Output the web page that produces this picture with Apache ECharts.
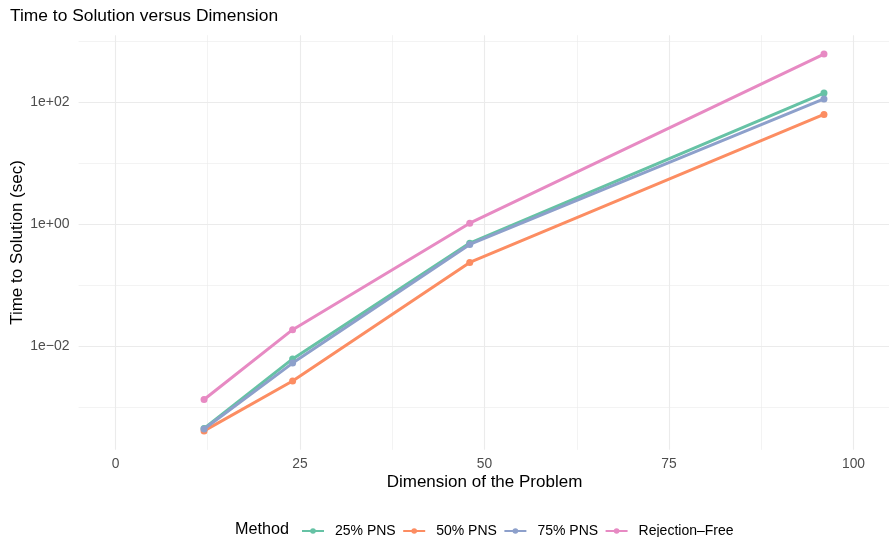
<!DOCTYPE html>
<html>
<head>
<meta charset="utf-8">
<script src="https://cdn.jsdelivr.net/npm/echarts@6/dist/echarts.min.js"></script>
<style>
  html, body { margin: 0; padding: 0; background: #ffffff; }
  #chart { width: 889px; height: 537px; }
</style>
</head>
<body>
<div id="chart"></div>
<script>
// Problem dimensions tested
const dimensions = [12, 24, 48, 96];

// Time to solution in seconds, per method
const methods = ['25% PNS', '50% PNS', '75% PNS', 'Rejection\u2013Free'];
const pns25 = [0.00045, 0.0062, 0.49, 141];
const pns50 = [0.00041, 0.0027, 0.236, 63];
const pns75 = [0.00044, 0.0053, 0.466, 113];
const rejectionFree = [0.00134, 0.0187, 1.04, 615];

// Axis breaks
const xMajorTicks = [0, 25, 50, 75, 100];
const xMinorTicks = [12.5, 37.5, 62.5, 87.5];
const yMajorTicks = [0.01, 1, 100];
const yMajorLabels = ['1e\u221202', '1e+00', '1e+02'];
const yMinorTicks = [0.001, 0.1, 10, 1000];

const colors = ['#66C2A5', '#FC8D62', '#8DA0CB', '#E78AC3'];
const values = [pns25, pns50, pns75, rejectionFree];

// log10 transform for the y scale
const lg = v => Math.log10(v);
const yMajorLog = yMajorTicks.map(lg);
const yMinorLog = yMinorTicks.map(lg);

const FONT = '"Liberation Sans", Arial, Helvetica, sans-serif';
const GRID = '#EBEBEB';

const series = methods.map((name, i) => ({
  name: name,
  type: 'line',
  xAxisIndex: 0,
  yAxisIndex: 0,
  data: dimensions.map((d, j) => [d, lg(values[i][j])]),
  symbol: 'circle',
  symbolSize: 7,
  lineStyle: { width: 3, color: colors[i] },
  itemStyle: { color: colors[i] },
  emphasis: { disabled: true },
  z: 2 + i
}));

const chart = echarts.init(document.getElementById('chart'), null, { renderer: 'canvas' });
chart.setOption({
  animation: false,
  backgroundColor: '#ffffff',
  title: {
    text: 'Time to Solution versus Dimension',
    left: 5,
    top: 3,
    textStyle: { fontFamily: FONT, fontSize: 17.4, fontWeight: 'normal', color: '#000000' }
  },
  grid: {
    left: 78.6, top: 35.2, width: 811.8, height: 414.6,
    containLabel: false, outerBoundsMode: 'none'
  },
  xAxis: [
    {
      type: 'value',
      min: -5,
      max: 105,
      name: 'Dimension of the Problem',
      nameLocation: 'middle',
      nameGap: 24,
      nameMoveOverlap: false,
      nameTextStyle: { fontFamily: FONT, fontSize: 17, color: '#000000', verticalAlign: 'top' },
      axisLine: { show: false },
      axisTick: { show: false, customValues: xMajorTicks },
      axisLabel: {
        customValues: xMajorTicks,
        margin: 7,
        fontFamily: FONT, fontSize: 13.8, color: '#4D4D4D'
      },
      splitLine: { show: true, lineStyle: { color: GRID, width: 1.1 } }
    },
    {
      type: 'value',
      min: -5,
      max: 105,
      position: 'bottom',
      axisLine: { show: false },
      axisTick: { show: false, customValues: xMinorTicks },
      axisLabel: { show: false, customValues: xMinorTicks },
      splitLine: { show: true, lineStyle: { color: GRID, width: 0.6 } }
    }
  ],
  yAxis: [
    {
      type: 'value',
      min: -3.697,
      max: 3.098,
      name: 'Time to Solution (sec)',
      nameLocation: 'middle',
      nameGap: 53,
      nameMoveOverlap: false,
      nameTextStyle: { fontFamily: FONT, fontSize: 17, color: '#000000' },
      axisLine: { show: false },
      axisTick: { show: false, customValues: yMajorLog },
      axisLabel: {
        customValues: yMajorLog,
        margin: 9,
        fontFamily: FONT, fontSize: 14, color: '#4D4D4D',
        formatter: v => {
          const k = yMajorLog.findIndex(t => Math.abs(t - v) < 1e-6);
          return k >= 0 ? yMajorLabels[k] : '';
        }
      },
      splitLine: { show: true, lineStyle: { color: GRID, width: 1.1 } }
    },
    {
      type: 'value',
      min: -3.697,
      max: 3.098,
      position: 'left',
      axisLine: { show: false },
      axisTick: { show: false, customValues: yMinorLog },
      axisLabel: { show: false, customValues: yMinorLog },
      splitLine: { show: true, lineStyle: { color: GRID, width: 0.6 } }
    }
  ],
  legend: {
    data: methods,
    left: 296,
    top: 519,
    itemWidth: 22,
    itemHeight: 7,
    itemGap: 6.5,
    textStyle: { fontFamily: FONT, fontSize: 14, color: '#000000', padding: [0, 0, 0, 6] },
    selectedMode: false
  },
  graphic: [
    {
      type: 'text',
      left: 235,
      top: 522,
      style: { text: 'Method', font: '16.2px ' + FONT, fill: '#000000' }
    }
  ],
  series: series
});
</script>
</body>
</html>
